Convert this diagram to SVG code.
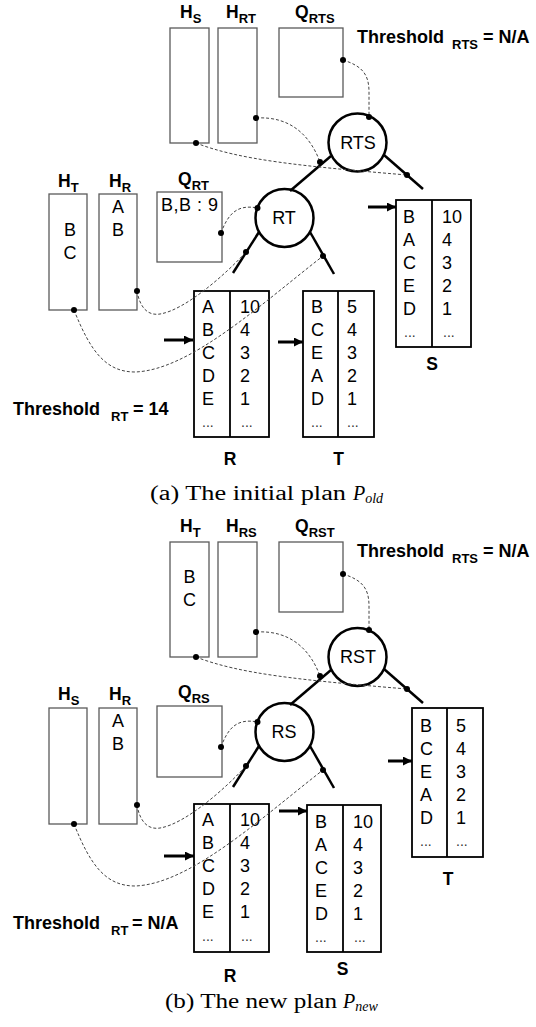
<svg xmlns="http://www.w3.org/2000/svg" width="536" height="1027" viewBox="0 0 536 1027">
<style>
.hbox{fill:none;stroke:#5a5a5a;stroke-width:1.3}
.tbl{fill:none;stroke:#000;stroke-width:1.8}
.node{fill:#fff;stroke:#000;stroke-width:2.5}
.edge{stroke:#000;stroke-width:2.5;fill:none}
.dash{fill:none;stroke:#444;stroke-width:1;stroke-dasharray:3 2}
.arr{stroke:#000;stroke-width:3;fill:none}
.lbl{font-family:"Liberation Sans",Arial,sans-serif;font-weight:bold;font-size:17.5px;fill:#000}
.sub{font-size:13px}
.th{font-family:"Liberation Sans",Arial,sans-serif;font-weight:bold;font-size:18px;fill:#000}
.txt{font-family:"Liberation Sans",Arial,sans-serif;font-size:18px;fill:#000}
.mid{text-anchor:middle}
.ell{font-family:"Liberation Sans",Arial,sans-serif;font-size:14px;fill:#333}
.cap{font-family:"Liberation Serif","Times New Roman",serif;font-size:20px;fill:#000}
</style>
<defs>
<marker id="ah" markerWidth="9" markerHeight="9" refX="9" refY="4.5" orient="auto" markerUnits="userSpaceOnUse"><path d="M0,0 L9,4.5 L0,9 z" fill="#000"/></marker>
</defs>

<!-- ===== Panel (a) ===== -->
<g id="a-HS"><rect class="hbox" x="170" y="28" width="39" height="115"/><text class="lbl" x="180" y="18">H<tspan class="sub" dy="5">S</tspan></text></g>
<g id="a-HRT"><rect class="hbox" x="218" y="28" width="39" height="115"/><text class="lbl" x="226" y="18">H<tspan class="sub" dy="5">RT</tspan></text></g>
<g id="a-QRTS"><rect class="hbox" x="279" y="28" width="64" height="69"/><text class="lbl" x="295" y="18">Q<tspan class="sub" dy="5">RTS</tspan></text></g>
<g id="a-thRTS"><text class="th"><tspan x="357" y="43">Threshold</tspan><tspan class="sub" x="452" y="49">RTS</tspan><tspan x="483" y="43">= N/A</tspan></text></g>

<g id="a-HT"><rect class="hbox" x="49" y="194" width="38" height="116"/><text class="lbl" x="58" y="187">H<tspan class="sub" dy="5">T</tspan></text>
<text class="txt mid" x="70" y="236">B</text><text class="txt mid" x="70" y="259">C</text></g>
<g id="a-HR"><rect class="hbox" x="99" y="194" width="38" height="116"/><text class="lbl" x="109" y="187">H<tspan class="sub" dy="5">R</tspan></text>
<text class="txt mid" x="118" y="213">A</text><text class="txt mid" x="118" y="236">B</text></g>
<g id="a-QRT"><rect class="hbox" x="157" y="192" width="65" height="70"/><text class="lbl" x="178" y="185">Q<tspan class="sub" dy="5">RT</tspan></text>
<text class="txt" x="161" y="211" textLength="57">B,B : 9</text></g>

<g id="a-RTS"><circle class="node" cx="357.5" cy="142.5" r="29"/><text class="txt mid" x="358" y="149">RTS</text></g>
<g id="a-RT"><circle class="node" cx="284.5" cy="218" r="29"/><text class="txt mid" x="284" y="224">RT</text></g>

<g id="a-S">
<rect class="tbl" x="396" y="200" width="75" height="147"/><line class="tbl" x1="432" y1="200" x2="432" y2="347"/>
<text class="txt" x="403" y="223">B</text><text class="txt" x="403" y="246">A</text><text class="txt" x="403" y="269">C</text><text class="txt" x="403" y="292">E</text><text class="txt" x="403" y="315">D</text><text class="ell" x="404" y="337">...</text>
<text class="txt" x="442" y="223">10</text><text class="txt" x="442" y="246">4</text><text class="txt" x="442" y="269">3</text><text class="txt" x="442" y="292">2</text><text class="txt" x="442" y="315">1</text><text class="ell" x="443" y="337">...</text>
<text class="lbl mid" x="432" y="370">S</text></g>
<g id="a-R">
<rect class="tbl" x="194" y="291" width="75" height="146"/><line class="tbl" x1="230" y1="291" x2="230" y2="437"/>
<text class="txt" x="202" y="313">A</text><text class="txt" x="202" y="336">B</text><text class="txt" x="202" y="359">C</text><text class="txt" x="202" y="382">D</text><text class="txt" x="202" y="405">E</text><text class="ell" x="202" y="427">...</text>
<text class="txt" x="240" y="313">10</text><text class="txt" x="240" y="336">4</text><text class="txt" x="240" y="359">3</text><text class="txt" x="240" y="382">2</text><text class="txt" x="240" y="405">1</text><text class="ell" x="241" y="427">...</text>
<text class="lbl mid" x="230" y="465">R</text></g>
<g id="a-T">
<rect class="tbl" x="303" y="291" width="71" height="146"/><line class="tbl" x1="338" y1="291" x2="338" y2="437"/>
<text class="txt" x="311" y="313">B</text><text class="txt" x="311" y="336">C</text><text class="txt" x="311" y="359">E</text><text class="txt" x="311" y="382">A</text><text class="txt" x="311" y="405">D</text><text class="ell" x="311" y="427">...</text>
<text class="txt" x="347" y="313">5</text><text class="txt" x="347" y="336">4</text><text class="txt" x="347" y="359">3</text><text class="txt" x="347" y="382">2</text><text class="txt" x="347" y="405">1</text><text class="ell" x="347" y="427">...</text>
<text class="lbl mid" x="338.5" y="465">T</text></g>
<g id="a-thRT"><text class="th"><tspan x="13" y="415">Threshold</tspan><tspan class="sub" x="111" y="421">RT</tspan><tspan x="133" y="415">= 14</tspan></text></g>
<g id="a-caption"><text class="cap" x="150" y="500" textLength="196" lengthAdjust="spacingAndGlyphs">(a) The initial plan</text><text class="cap" x="353" y="500"><tspan font-style="italic">P</tspan><tspan font-style="italic" font-size="14" dy="3">old</tspan></text></g>

<!-- ===== Panel (b) ===== -->
<g id="b-HT"><rect class="hbox" x="170" y="542" width="39" height="115"/><text class="lbl" x="180" y="532">H<tspan class="sub" dy="5">T</tspan></text>
<text class="txt mid" x="189.5" y="583">B</text><text class="txt mid" x="189.5" y="606">C</text></g>
<g id="b-HRS"><rect class="hbox" x="218" y="542" width="39" height="115"/><text class="lbl" x="226" y="532">H<tspan class="sub" dy="5">RS</tspan></text></g>
<g id="b-QRST"><rect class="hbox" x="279" y="542" width="64" height="70"/><text class="lbl" x="295" y="532">Q<tspan class="sub" dy="5">RST</tspan></text></g>
<g id="b-thRTS"><text class="th"><tspan x="357" y="557">Threshold</tspan><tspan class="sub" x="452" y="563">RTS</tspan><tspan x="483" y="557">= N/A</tspan></text></g>

<g id="b-HS"><rect class="hbox" x="49" y="708" width="38" height="116"/><text class="lbl" x="58" y="700">H<tspan class="sub" dy="5">S</tspan></text></g>
<g id="b-HR"><rect class="hbox" x="99" y="708" width="38" height="116"/><text class="lbl" x="109" y="700">H<tspan class="sub" dy="5">R</tspan></text>
<text class="txt mid" x="118" y="727">A</text><text class="txt mid" x="118" y="750">B</text></g>
<g id="b-QRS"><rect class="hbox" x="157" y="706" width="65" height="71"/><text class="lbl" x="178" y="698">Q<tspan class="sub" dy="5">RS</tspan></text></g>

<g id="b-RST"><circle class="node" cx="357.5" cy="657" r="29"/><text class="txt mid" x="358" y="663">RST</text></g>
<g id="b-RS"><circle class="node" cx="284.5" cy="732" r="29"/><text class="txt mid" x="284" y="738">RS</text></g>

<g id="b-T">
<rect class="tbl" x="412" y="708" width="71" height="149"/><line class="tbl" x1="447" y1="708" x2="447" y2="857"/>
<text class="txt" x="420" y="732">B</text><text class="txt" x="420" y="755">C</text><text class="txt" x="420" y="778">E</text><text class="txt" x="420" y="801">A</text><text class="txt" x="420" y="824">D</text><text class="ell" x="420" y="846">...</text>
<text class="txt" x="456" y="732">5</text><text class="txt" x="456" y="755">4</text><text class="txt" x="456" y="778">3</text><text class="txt" x="456" y="801">2</text><text class="txt" x="456" y="824">1</text><text class="ell" x="456" y="846">...</text>
<text class="lbl mid" x="448" y="885">T</text></g>
<g id="b-R">
<rect class="tbl" x="194" y="804" width="75" height="148"/><line class="tbl" x1="230" y1="804" x2="230" y2="952"/>
<text class="txt" x="202" y="826">A</text><text class="txt" x="202" y="849">B</text><text class="txt" x="202" y="872">C</text><text class="txt" x="202" y="895">D</text><text class="txt" x="202" y="918">E</text><text class="ell" x="202" y="941">...</text>
<text class="txt" x="240" y="826">10</text><text class="txt" x="240" y="849">4</text><text class="txt" x="240" y="872">3</text><text class="txt" x="240" y="895">2</text><text class="txt" x="240" y="918">1</text><text class="ell" x="241" y="941">...</text>
<text class="lbl mid" x="230" y="982">R</text></g>
<g id="b-S">
<rect class="tbl" x="307" y="805" width="74" height="147"/><line class="tbl" x1="343" y1="805" x2="343" y2="952"/>
<text class="txt" x="315" y="828">B</text><text class="txt" x="315" y="851">A</text><text class="txt" x="315" y="874">C</text><text class="txt" x="315" y="897">E</text><text class="txt" x="315" y="920">D</text><text class="ell" x="315" y="942">...</text>
<text class="txt" x="353" y="828">10</text><text class="txt" x="353" y="851">4</text><text class="txt" x="353" y="874">3</text><text class="txt" x="353" y="897">2</text><text class="txt" x="353" y="920">1</text><text class="ell" x="354" y="942">...</text>
<text class="lbl mid" x="342.5" y="975">S</text></g>
<g id="b-thRT"><text class="th"><tspan x="13" y="929">Threshold</tspan><tspan class="sub" x="111" y="935">RT</tspan><tspan x="132" y="929">= N/A</tspan></text></g>
<g id="b-caption"><text class="cap" x="165" y="1008" textLength="172" lengthAdjust="spacingAndGlyphs">(b) The new plan</text><text class="cap" x="343" y="1008"><tspan font-style="italic">P</tspan><tspan font-style="italic" font-size="14" dy="3">new</tspan></text></g>

<!-- ===== Connectors ===== -->
<g id="connectors">
<!-- tree edges -->
<line class="edge" x1="331" y1="156" x2="290" y2="191"/>
<line class="edge" x1="384" y1="155" x2="423" y2="189"/>
<line class="edge" x1="259" y1="232" x2="233" y2="273"/>
<line class="edge" x1="310" y1="232" x2="334" y2="274"/>
<line class="edge" x1="331" y1="670" x2="290" y2="705"/>
<line class="edge" x1="384" y1="669" x2="423" y2="703"/>
<line class="edge" x1="259" y1="746" x2="233" y2="787"/>
<line class="edge" x1="310" y1="746" x2="334" y2="788"/>
<!-- pointer arrows -->
<line class="arr" x1="164" y1="340" x2="193" y2="340" marker-end="url(#ah)"/>
<line class="arr" x1="278" y1="342" x2="303" y2="342" marker-end="url(#ah)"/>
<line class="arr" x1="368" y1="207" x2="396" y2="207" marker-end="url(#ah)"/>
<line class="arr" x1="164" y1="856" x2="194" y2="856" marker-end="url(#ah)"/>
<line class="arr" x1="279" y1="811" x2="307" y2="811" marker-end="url(#ah)"/>
<line class="arr" x1="388" y1="761" x2="412" y2="761" marker-end="url(#ah)"/>
<!-- dashed links (a) -->
<path class="dash" d="M343,60 C362,66 369,74 369,92 L369,117"/>
<path class="dash" d="M256,118 C290,116 310,135 320,162"/>
<path class="dash" d="M196,143 C240,160 300,166 407,175"/>
<path class="dash" d="M221,233 C228,214 237,204 257.5,208"/>
<path class="dash" d="M137,291 C140,308 148,316 160,314 C185,310 225,275 246,252"/>
<path class="dash" d="M74,310 C90,350 105,372 135,372 C190,370 260,305 323,256"/>
<!-- dashed links (b) -->
<path class="dash" d="M343,574 C362,580 369,588 369,606 L369,630"/>
<path class="dash" d="M256,632 C290,630 310,649 320,676"/>
<path class="dash" d="M196,657 C240,674 300,680 407,689"/>
<path class="dash" d="M221,747 C228,728 237,718 257.5,722"/>
<path class="dash" d="M137,805 C140,822 148,830 160,828 C185,824 225,789 246,766"/>
<path class="dash" d="M74,824 C90,864 105,886 135,886 C190,884 260,819 323,770"/>
<!-- dots -->
<g fill="#000">
<circle cx="256" cy="118" r="3"/><circle cx="196" cy="143" r="3"/><circle cx="343" cy="60" r="3"/><circle cx="369" cy="117" r="3"/>
<circle cx="320" cy="162" r="3"/><circle cx="407" cy="175" r="3"/><circle cx="221" cy="233" r="3"/><circle cx="257.5" cy="208" r="3"/>
<circle cx="137" cy="291" r="3"/><circle cx="246" cy="252" r="3"/><circle cx="74" cy="310" r="3"/><circle cx="323" cy="256" r="3"/>
<circle cx="256" cy="632" r="3"/><circle cx="196" cy="657" r="3"/><circle cx="343" cy="574" r="3"/><circle cx="369" cy="630" r="3"/>
<circle cx="320" cy="676" r="3"/><circle cx="407" cy="689" r="3"/><circle cx="221" cy="747" r="3"/><circle cx="257.5" cy="722" r="3"/>
<circle cx="137" cy="805" r="3"/><circle cx="246" cy="766" r="3"/><circle cx="74" cy="824" r="3"/><circle cx="323" cy="770" r="3"/>
</g>
</g>
</svg>
